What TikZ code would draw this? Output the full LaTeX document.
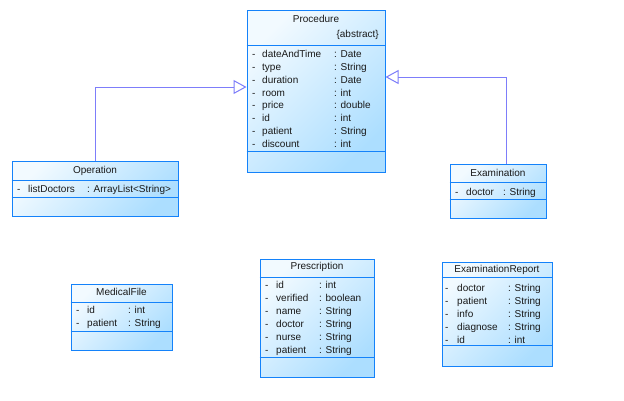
\documentclass[tikz,border=0pt]{standalone}
\usepackage{fontspec}
\setmainfont{Liberation Sans}
\usetikzlibrary{arrows.meta,positioning,calc}
\definecolor{umlborder}{RGB}{20,130,250}
\definecolor{umlline}{RGB}{125,125,250}
\definecolor{umllight}{RGB}{242,250,255}
\definecolor{umldark}{RGB}{172,222,255}

\begin{document}
\begin{tikzpicture}[x=1pt, y=-1pt,
    every node/.style={font=\fontsize{10}{12}\selectfont, inner sep=0pt, text=black!90},
    classbox/.style={draw=umlborder, line width=1pt, shading=axis, top color=umllight,
      bottom color=umldark, shading angle=45},
    divider/.style={draw=umlborder, line width=1pt},
    attr/.style={anchor=base west},
    inherit/.style={draw=umlline, line width=1pt, -{Triangle[open, length=13pt, width=14pt]}}]
    \useasboundingbox (0,0) rectangle (624,400);
    \fill[white] (0,0) rectangle (624,400);

    % class boxes
    \node[classbox, minimum width=138pt, minimum height=162pt] (proc) at (316,91) {};
    \node[classbox, minimum width=166pt, minimum height=55pt] (op) at (95,188.5) {};
    \node[classbox, minimum width=96pt, minimum height=54pt] (exam) at (498,191) {};
    \node[classbox, minimum width=101pt, minimum height=66pt] (medfile) at (121.5,317) {};
    \node[classbox, minimum width=114pt, minimum height=118pt] (presc) at (317,318) {};
    \node[classbox, minimum width=110pt, minimum height=104pt] (exrep) at (497,314) {};
    \foreach \b/\d in {proc/36, proc/142, op/20, op/37, exam/19, exam/36,
                       medfile/19, medfile/48, presc/19, presc/99, exrep/16, exrep/84}{
      \draw[divider] ([yshift=-\d pt]\b.north west) -- ([yshift=-\d pt]\b.north east);
    }

    % titles
    \node[anchor=base] (proc-title) at (316,22.6) {Procedure};
    \node[anchor=base east] (proc-abs) at (379,37.9) {\{abstract\}};
    \node[anchor=base] (op-title) at (95,173.6) {Operation};
    \node[anchor=base] (exam-title) at (498,176.9) {Examination};
    \node[anchor=base] (medfile-title) at (121.5,295.9) {MedicalFile};
    \node[anchor=base] (presc-title) at (317,269.3) {Prescription};
    \node[anchor=base] (exrep-title) at (497,272.3) {ExaminationReport};

    % attributes
    \foreach \n/\t [count=\i from 0] in {dateAndTime/Date, type/String, duration/Date,
        room/int, price/double, id/int, patient/String, discount/int}{
      \node[attr] (proc-d\i) at (252,57.6+12.8*\i) {-};
      \node[attr] (proc-n\i) at (262,57.6+12.8*\i) {\n};
      \node[attr] (proc-t\i) at (334,57.6+12.8*\i) {: \t};
    }
    \node[attr] (op-d0) at (17,192.6) {-};
    \node[attr] (op-n0) at (28,192.6) {listDoctors};
    \node[attr] (op-t0) at (87,192.6) {: ArrayList<String>};
    \node[attr] (exam-d0) at (455,195.6) {-};
    \node[attr] (exam-n0) at (466,195.6) {doctor};
    \node[attr] (exam-t0) at (503,195.6) {: String};
    \foreach \n/\t [count=\i from 0] in {id/int, patient/String}{
      \node[attr] (medfile-d\i) at (76,313.6+12.7*\i) {-};
      \node[attr] (medfile-n\i) at (87,313.6+12.7*\i) {\n};
      \node[attr] (medfile-t\i) at (128,313.6+12.7*\i) {: \t};
    }
    \foreach \n/\t [count=\i from 0] in {id/int, verified/boolean, name/String,
        doctor/String, nurse/String, patient/String}{
      \node[attr] (presc-d\i) at (265,288.6+13*\i) {-};
      \node[attr] (presc-n\i) at (276,288.6+13*\i) {\n};
      \node[attr] (presc-t\i) at (319,288.6+13*\i) {: \t};
    }
    \foreach \n/\t [count=\i from 0] in {doctor/String, patient/String, info/String,
        diagnose/String, id/int}{
      \node[attr] (exrep-d\i) at (445,291.6+12.9*\i) {-};
      \node[attr] (exrep-n\i) at (457,291.6+12.9*\i) {\n};
      \node[attr] (exrep-t\i) at (508,291.6+12.9*\i) {: \t};
    }

    % generalisation
    \draw[inherit] (op.north) |- ([yshift=4pt]proc.west);
    \draw[inherit] ([xshift=8pt]exam.north) |- ([yshift=14pt]proc.east);
\end{tikzpicture}
\end{document}
